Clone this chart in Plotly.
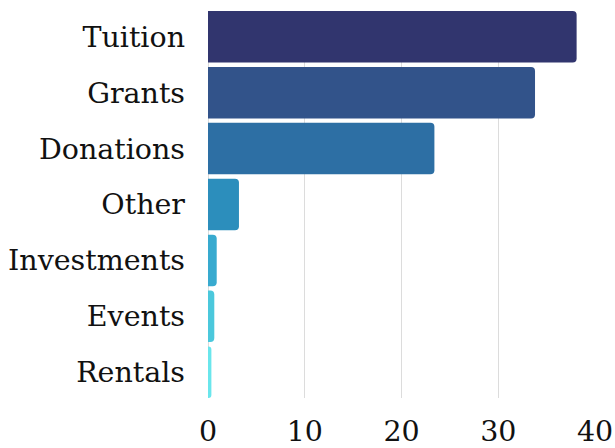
import plotly.graph_objects as go

categories = ["Tuition", "Grants", "Donations", "Other", "Investments", "Events", "Rentals"]
values = [38.1, 33.8, 23.4, 3.2, 0.9, 0.65, 0.35]
colors = ["#31356e", "#32538a", "#2d6fa4", "#2c8ebc", "#38aacf", "#4bc8dc", "#6ae6ec"]
x_ticks = [0, 10, 20, 30, 40]

font_family = "DejaVu Serif"
font_size = 28.5

fig = go.Figure(
    go.Bar(
        x=values,
        y=categories,
        orientation="h",
        marker=dict(color=colors, line=dict(width=0)),
        width=0.92,
    )
)

fig.update_layout(
    width=615,
    height=448,
    margin=dict(l=208, r=20, t=11, b=50, autoexpand=False),
    paper_bgcolor="white",
    plot_bgcolor="white",
    barcornerradius=4,
    showlegend=False,
    font=dict(family=font_family, size=font_size, color="#111111"),
)

fig.update_xaxes(
    range=[0, 40],
    tickvals=x_ticks,
    showgrid=True,
    gridcolor="#dcdcdc",
    gridwidth=1,
    zeroline=True,
    zerolinecolor="#dcdcdc",
    zerolinewidth=1,
    showline=False,
    ticks="outside",
    ticklen=8,
    tickcolor="rgba(0,0,0,0)",
    automargin=False,
    tickfont=dict(family=font_family, size=font_size, color="#111111"),
)

fig.update_yaxes(
    categoryorder="array",
    categoryarray=categories,
    range=[6.46, -0.46],
    showgrid=False,
    zeroline=False,
    showline=False,
    ticks="",
    ticklabelstandoff=22,
    automargin=False,
    tickfont=dict(family=font_family, size=font_size, color="#111111"),
)

fig.write_html("out.html")
